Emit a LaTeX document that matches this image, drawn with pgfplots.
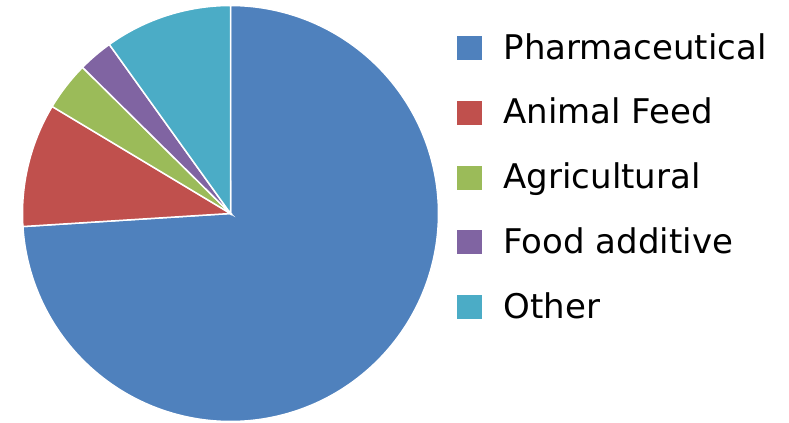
\documentclass[border=0pt]{standalone}
\usepackage{pgfplots}
\pgfplotsset{compat=1.18}
\usepgfplotslibrary{polar}
\usepackage{fontspec}
\setmainfont{DejaVu Sans}
\definecolor{cPharma}{HTML}{4F81BD}
\definecolor{cFeed}{HTML}{C0504D}
\definecolor{cAgri}{HTML}{9BBB59}
\definecolor{cFood}{HTML}{8064A2}
\definecolor{cOther}{HTML}{4BACC6}
% shares in percent
\def\vPharma{74.0}
\def\vFeed{9.6}
\def\vAgri{3.8}
\def\vFood{2.7}
\def\vOther{9.9}
\pgfmathsetmacro{\aA}{90}
\pgfmathsetmacro{\aB}{\aA-3.6*\vPharma}
\pgfmathsetmacro{\aC}{\aB-3.6*\vFeed}
\pgfmathsetmacro{\aD}{\aC-3.6*\vAgri}
\pgfmathsetmacro{\aE}{\aD-3.6*\vFood}
\pgfmathsetmacro{\aF}{\aE-3.6*\vOther}
\begin{document}
\begin{tikzpicture}
\useasboundingbox (0,0) rectangle (789bp,423bp);
\begin{polaraxis}[
  hide axis, clip=false,
  scale only axis, width=416bp, height=416bp,
  xmin=0, xmax=360, ymin=0, ymax=1,
  at={(230.5bp,209.5bp)}, anchor=center,
  area legend,
  legend cell align=left,
  legend image code/.code={\fill[#1,draw=none] (0bp,-10bp) rectangle (25bp,14bp);},
  legend style={
    at={(1.0433,0.9334)}, anchor=north west,
    draw=none, fill=none, inner sep=0pt, outer sep=0pt,
    font=\fontsize{34bp}{40bp}\selectfont,
    nodes={inner sep=0pt, text height=26bp, text depth=8bp},
    row sep=30.7bp,
    /tikz/every odd column/.append style={column sep=22bp},
  },
  every axis plot/.append style={draw=white, line width=1.5bp, samples=300},
]
\addplot[fill=cPharma, domain=\aB:\aA] {1} -- (axis cs:0,0) -- cycle;
\addlegendentry{Pharmaceutical}
\addplot[fill=cFeed, domain=\aC:\aB] {1} -- (axis cs:0,0) -- cycle;
\addlegendentry{Animal Feed}
\addplot[fill=cAgri, domain=\aD:\aC] {1} -- (axis cs:0,0) -- cycle;
\addlegendentry{Agricultural}
\addplot[fill=cFood, domain=\aE:\aD] {1} -- (axis cs:0,0) -- cycle;
\addlegendentry{Food additive}
\addplot[fill=cOther, domain=\aF:\aE] {1} -- (axis cs:0,0) -- cycle;
\addlegendentry{Other}
\end{polaraxis}
\end{tikzpicture}
\end{document}
